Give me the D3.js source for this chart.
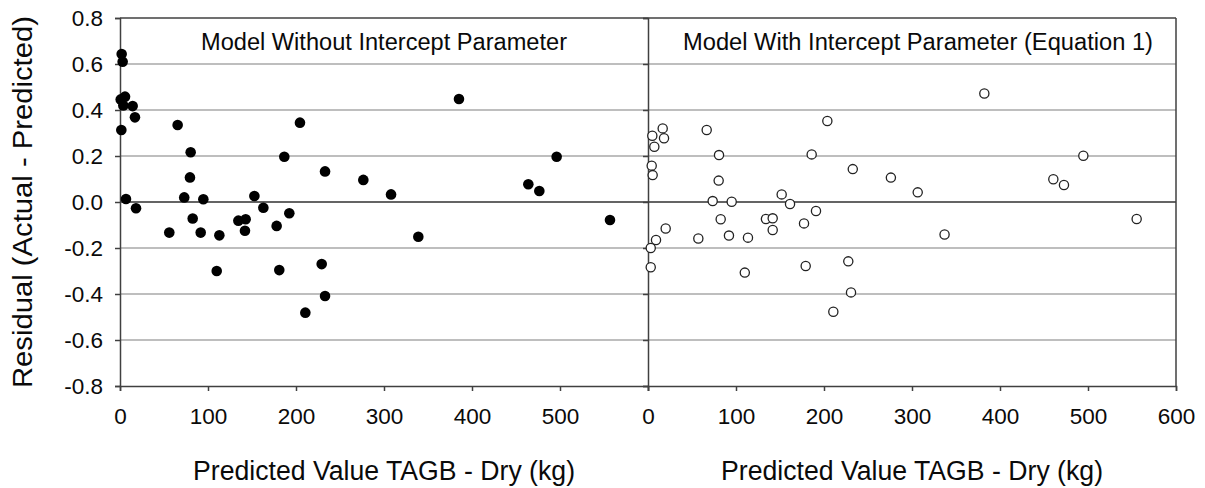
<!DOCTYPE html>
<html>
<head>
<meta charset="utf-8">
<script src="https://cdn.jsdelivr.net/npm/d3@7"></script>
<style>
  html, body { margin: 0; padding: 0; background: #fff; }
  svg { display: block; font-family: "Liberation Sans", Arial, sans-serif; }
</style>
</head>
<body>
<svg id="chart" width="1205" height="488"></svg>
<script>
// Left panel: Model Without Intercept Parameter (filled points)
const leftX = [1.9, 3, 0.8, 5.7, 3.8, 14.4, 17, 1.5, 6.8, 18.2,
  65.5, 80.3, 79.5, 73, 94.7, 82.6, 56, 91.7, 112.9, 134.5, 142.8, 142, 152.7, 162.9, 178, 192.4, 186.7, 204.5, 233, 276.5, 308,
  109.9, 181, 229.2, 233, 210.6,
  385.2, 496.2, 464, 476.5, 556.8, 339];
const leftY = [0.643, 0.61, 0.446, 0.458, 0.42, 0.417, 0.368, 0.313, 0.013, -0.027,
  0.335, 0.216, 0.107, 0.02, 0.012, -0.072, -0.133, -0.133, -0.145, -0.081, -0.075, -0.125, 0.026, -0.025, -0.104, -0.049, 0.197, 0.345, 0.133, 0.096, 0.033,
  -0.3, -0.296, -0.27, -0.409, -0.481,
  0.448, 0.197, 0.077, 0.048, -0.078, -0.151];

// Right panel: Model With Intercept Parameter (Equation 1) (open points)
const rightX = [4.9, 16.7, 18.2, 7.2, 66.7, 80.7, 4.2, 5.3, 80.3, 73.5, 95.1, 151.9, 161.4, 82.6, 134, 141.7, 141.7, 20.1, 9.1, 57.2, 92, 113.6,
  3.1, 3.1, 110, 177.3, 190.9, 186, 203.8, 232.7, 276, 306.5, 337, 382.2, 460.6, 472.7, 494.7, 555.3, 179.2, 227.6, 230.7, 210.6];
const rightY = [0.288, 0.32, 0.277, 0.24, 0.313, 0.204, 0.158, 0.117, 0.093, 0.004, 0.001, 0.033, -0.009, -0.075, -0.074, -0.071, -0.122, -0.115, -0.165, -0.159, -0.146, -0.155,
  -0.2, -0.284, -0.307, -0.093, -0.039, 0.207, 0.352, 0.143, 0.106, 0.042, -0.141, 0.472, 0.099, 0.074, 0.201, -0.074, -0.278, -0.258, -0.393, -0.477];

const yTicks = [-0.8, -0.6, -0.4, -0.2, 0.0, 0.2, 0.4, 0.6, 0.8];
const xTicksLeft = [0, 100, 200, 300, 400, 500];
const xTicksRight = [0, 100, 200, 300, 400, 500, 600];
const titleLeft = "Model Without Intercept Parameter";
const titleRight = "Model With Intercept Parameter (Equation 1)";
const xTitle = "Predicted Value TAGB - Dry (kg)";
const yTitle = "Residual (Actual - Predicted)";

const svg = d3.select("#chart");
const L = 120, M = 648, R = 1176, T = 18, B = 386;

const xL = d3.scaleLinear().domain([0, 600]).range([L, M]);
const xR = d3.scaleLinear().domain([0, 600]).range([M, R]);
const y = d3.scaleLinear().domain([-0.8, 0.8]).range([B, T]);

const axisColor = "#404040";
const textColor = "#0a0a0a";

// gridlines
svg.append("g").selectAll("line").data(yTicks.filter(d => d !== 0 && d !== -0.8 && d !== 0.8))
  .join("line")
  .attr("x1", L).attr("x2", R)
  .attr("y1", d => y(d)).attr("y2", d => y(d))
  .attr("stroke", "#a8a8a8").attr("stroke-width", 1.5);

// top border
svg.append("line").attr("x1", L).attr("x2", R).attr("y1", y(0.8)).attr("y2", y(0.8))
  .attr("stroke", axisColor).attr("stroke-width", 1.5);
// zero line
svg.append("line").attr("x1", L).attr("x2", R).attr("y1", y(0)).attr("y2", y(0))
  .attr("stroke", "#303030").attr("stroke-width", 1.5);
// right border
svg.append("line").attr("x1", R).attr("x2", R).attr("y1", T).attr("y2", B)
  .attr("stroke", axisColor).attr("stroke-width", 1.5);

const fmt = d => d.toFixed(1);

// left y axis
const gyL = svg.append("g").attr("transform", `translate(${L},0)`)
  .call(d3.axisLeft(y).tickValues(yTicks).tickFormat(fmt).tickSize(5).tickPadding(12));
// middle y axis (no labels)
const gyM = svg.append("g").attr("transform", `translate(${M},0)`)
  .call(d3.axisLeft(y).tickValues(yTicks).tickFormat("").tickSize(5));

// bottom axes
const gxL = svg.append("g").attr("transform", `translate(0,${B})`)
  .call(d3.axisBottom(xL).tickValues(xTicksLeft).tickFormat(d3.format("d")).tickSize(5).tickPadding(17));
const gxR = svg.append("g").attr("transform", `translate(0,${B})`)
  .call(d3.axisBottom(xR).tickValues(xTicksRight).tickFormat(d3.format("d")).tickSize(5).tickPadding(17));

[gyL, gyM, gxL, gxR].forEach(g => {
  g.select(".domain").attr("stroke", axisColor).attr("stroke-width", 1.5);
  g.selectAll(".tick line").attr("stroke", axisColor).attr("stroke-width", 1.5);
  g.selectAll(".tick text").attr("fill", textColor)
    .style("font-size", "22.5px").style("font-family", '"Liberation Sans", Arial, sans-serif');
});

// panel titles
svg.append("text").attr("x", xL(300)).attr("y", 50).attr("text-anchor", "middle")
  .style("font-size", "23.5px").attr("fill", textColor)
  .attr("textLength", 366).attr("lengthAdjust", "spacingAndGlyphs").text(titleLeft);
svg.append("text").attr("x", (683 + 1153) / 2).attr("y", 50).attr("text-anchor", "middle")
  .style("font-size", "23.5px").attr("fill", textColor)
  .attr("textLength", 470).attr("lengthAdjust", "spacingAndGlyphs").text(titleRight);

// axis titles
svg.append("text").attr("x", xL(300)).attr("y", 480).attr("text-anchor", "middle")
  .style("font-size", "27px").attr("fill", textColor)
  .attr("textLength", 382).attr("lengthAdjust", "spacingAndGlyphs").text(xTitle);
svg.append("text").attr("x", xR(300)).attr("y", 480).attr("text-anchor", "middle")
  .style("font-size", "27px").attr("fill", textColor)
  .attr("textLength", 382).attr("lengthAdjust", "spacingAndGlyphs").text(xTitle);
svg.append("text").attr("transform", `translate(32,${(T + B) / 2}) rotate(-90)`)
  .attr("text-anchor", "middle")
  .style("font-size", "27px").attr("fill", textColor)
  .attr("textLength", 372).attr("lengthAdjust", "spacingAndGlyphs").text(yTitle);

// points
svg.append("g").selectAll("circle").data(leftX.map((d, i) => [d, leftY[i]]))
  .join("circle")
  .attr("cx", d => xL(d[0])).attr("cy", d => y(d[1])).attr("r", 5.3)
  .attr("fill", "#000");

svg.append("g").selectAll("circle").data(rightX.map((d, i) => [d, rightY[i]]))
  .join("circle")
  .attr("cx", d => xR(d[0])).attr("cy", d => y(d[1])).attr("r", 4.6)
  .attr("fill", "#fff").attr("stroke", "#222").attr("stroke-width", 1.3);
</script>
</body>
</html>
